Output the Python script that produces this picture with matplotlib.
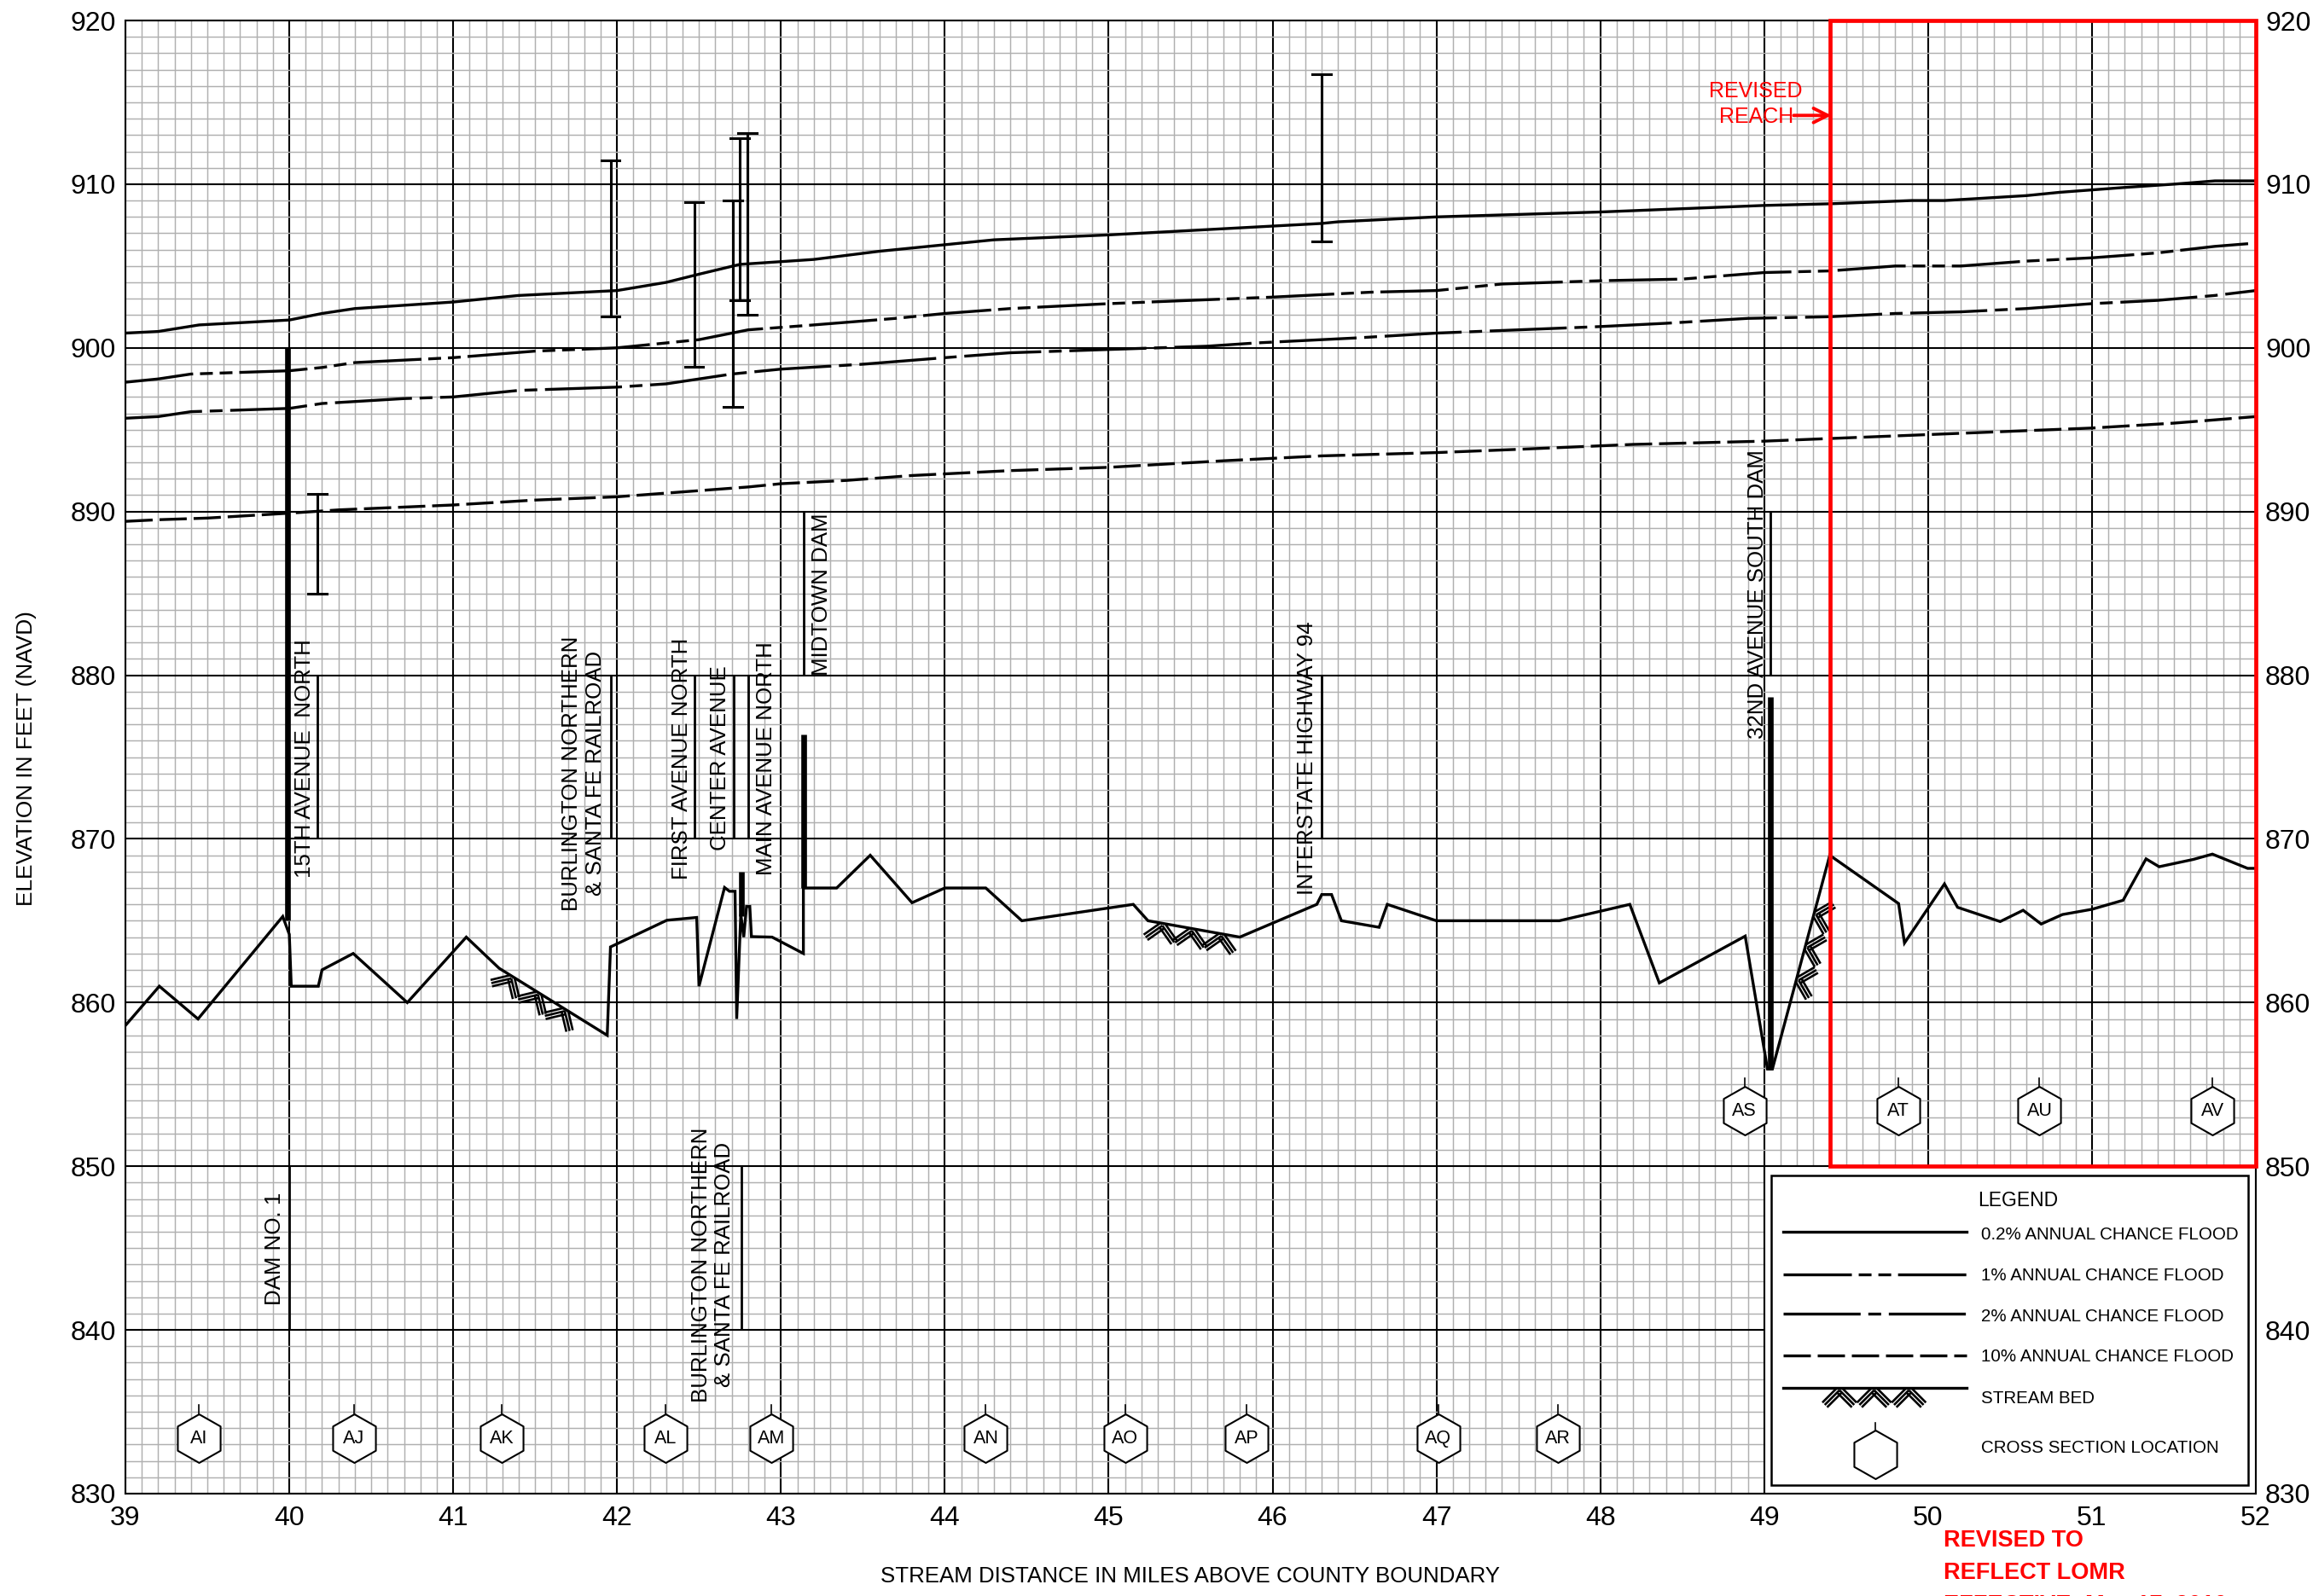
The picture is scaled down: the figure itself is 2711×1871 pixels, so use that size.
import numpy as np
import matplotlib
matplotlib.use("Agg")
import matplotlib.pyplot as plt
from matplotlib.lines import Line2D
from matplotlib.patches import Rectangle
from matplotlib.ticker import MultipleLocator

plt.rcParams['font.family'] = ['Liberation Sans', 'DejaVu Sans']
plt.rcParams['lines.scale_dashes'] = False

miles = list(range(39, 53))
elevs = list(range(830, 921, 10))

f02_x = [39, 39.2, 39.45, 40, 40.2, 40.4, 41, 41.4, 42, 42.3, 42.5, 42.75, 43.2, 43.6, 44, 44.3, 45, 46.3, 46.4, 47, 48, 49, 49.4, 49.9, 50.1, 50.6, 50.8, 51.2, 51.5, 51.75, 52]
f02_y = [900.9, 901.0, 901.4, 901.7, 902.1, 902.4, 902.8, 903.2, 903.5, 904, 904.5, 905.1, 905.4, 905.9, 906.3, 906.6, 906.9, 907.6, 907.7, 908, 908.3, 908.7, 908.8, 909, 909, 909.3, 909.5, 909.8, 910, 910.2, 910.2]
f1_x = [39, 39.2, 39.4, 40, 40.2, 40.4, 41, 41.5, 42, 42.5, 42.8, 43.2, 43.7, 44, 44.4, 45, 45.5, 46, 46.6, 47, 47.4, 48, 48.5, 49, 49.4, 49.8, 50.2, 50.6, 51, 51.4, 51.75, 52]
f1_y = [897.9, 898.1, 898.4, 898.6, 898.8, 899.1, 899.4, 899.8, 900, 900.5, 901.1, 901.4, 901.8, 902.1, 902.4, 902.7, 902.9, 903.1, 903.4, 903.5, 903.9, 904.1, 904.2, 904.6, 904.7, 905, 905, 905.3, 905.5, 905.8, 906.2, 906.4]
f2_x = [39, 39.2, 39.4, 40, 40.2, 40.7, 41, 41.4, 42, 42.3, 42.7, 43, 43.5, 44, 44.4, 45, 45.6, 45.9, 46.5, 47, 47.5, 48, 48.4, 48.9, 49.4, 49.8, 50.2, 50.6, 51, 51.4, 51.75, 52]
f2_y = [895.7, 895.8, 896.1, 896.3, 896.6, 896.9, 897, 897.4, 897.6, 897.8, 898.4, 898.7, 899.0, 899.4, 899.7, 899.9, 900.1, 900.3, 900.6, 900.9, 901.1, 901.3, 901.5, 901.8, 901.9, 902.1, 902.2, 902.4, 902.7, 902.9, 903.2, 903.5]
f10_x = [39, 39.2, 39.5, 40, 40.3, 41, 41.5, 42, 42.4, 42.8, 43, 43.4, 43.8, 44.4, 45, 45.7, 46.3, 47, 47.5, 48.2, 49, 49.5, 50, 50.5, 51, 51.5, 52]
f10_y = [889.4, 889.5, 889.6, 889.9, 890.1, 890.4, 890.7, 890.9, 891.2, 891.5, 891.7, 891.9, 892.2, 892.5, 892.7, 893.1, 893.4, 893.6, 893.8, 894.1, 894.3, 894.5, 894.7, 894.9, 895.1, 895.4, 895.8]
bed_x = [39, 39.207, 39.443, 39.96, 40, 40.012, 40.177, 40.2, 40.39, 40.72, 41.08, 41.28, 41.94, 41.96, 42.304, 42.486, 42.5, 42.656, 42.686, 42.72, 42.73, 42.755, 42.773, 42.79, 42.81, 42.82, 42.946, 43.137, 43.137, 43.34, 43.545, 43.8, 44, 44.25, 44.47, 45.15, 45.24, 45.8, 46.27, 46.3, 46.36, 46.42, 46.65, 46.7, 47, 47.75, 48.18, 48.36, 48.884, 49.02, 49.05, 49.4, 49.82, 49.856, 50.1, 50.18, 50.44, 50.58, 50.69, 50.82, 51, 51.19, 51.33, 51.41, 51.62, 51.735, 51.95, 52]
bed_y = [858.6, 861, 859, 865.26, 864.17, 861, 861, 862, 863, 860, 864, 862.1, 858, 863.4, 865.03, 865.2, 861, 867.03, 866.8, 866.8, 859, 865.4, 864, 865.87, 865.87, 864.03, 864, 863, 867, 867, 869, 866.1, 867, 867, 865, 866, 865, 864, 866, 866.6, 866.6, 865, 864.6, 866, 865, 865, 866, 861.2, 864.06, 855.94, 855.94, 869, 866.05, 863.64, 867.25, 865.82, 864.95, 865.64, 864.8, 865.38, 865.7, 866.25, 868.78, 868.3, 868.75, 869.07, 868.2, 868.2]

# stream-bed hatching: start mile, end mile, elevation at start, elevation at end
hatch_x0 = [41.28, 45.24, 49.17]
hatch_x1 = [41.77, 45.78, 49.33]
hatch_y0 = [862.1, 865.0, 860.4]
hatch_y1 = [859.1, 864.05, 866.4]
hatch_side = [1, 1, -1]

# bridge spans
deck_x = [40.17, 41.96, 42.47, 42.705, 42.75, 42.795, 46.3]
deck_lo = [885, 901.9, 898.86, 896.4, 902.9, 902, 906.5]
deck_hi = [891.1, 911.43, 908.9, 909, 912.8, 913.1, 916.7]

# heavy dam bars
dam_x = [39.99, 42.76, 43.14, 49.037]
dam_lo = [865, 865.3, 867, 856]
dam_hi = [900, 868, 876.4, 878.7]

label_names = ["15TH AVENUE  NORTH", "BURLINGTON NORTHERN\n& SANTA FE RAILROAD", "FIRST AVENUE NORTH", "CENTER AVENUE",
               "MAIN AVENUE NORTH", "MIDTOWN DAM", "INTERSTATE HIGHWAY 94", "32ND AVENUE SOUTH DAM",
               "DAM NO. 1", "BURLINGTON NORTHERN\n& SANTA FE RAILROAD"]
label_x = [40.095, 41.795, 42.395, 42.63, 42.91, 43.25, 46.21, 48.96, 39.91, 42.585]
label_y = [867.6, 865.6, 867.5, 869.3, 867.8, 880, 866.6, 876.1, 841.5, 835.6]
leader_x = [40.17, 41.96, 42.47, 42.71, 42.80, 43.14, 46.3, 49.04, 40, 42.76]
leader_lo = [870, 870, 870, 870, 870, 880, 870, 880, 840, 840]
leader_hi = [880, 880, 880, 880, 880, 890, 880, 890, 850, 850]

xs_names = ["AI", "AJ", "AK", "AL", "AM", "AN", "AO", "AP", "AQ", "AR", "AS", "AT", "AU", "AV"]
xs_x = [39.45, 40.395, 41.295, 42.295, 42.94, 44.25, 45.1, 45.84, 47.01, 47.74, 48.88, 49.82, 50.68, 51.735]
xs_y = [833.4] * 10 + [853.4] * 4

legend_names = ["0.2% ANNUAL CHANCE FLOOD", "1% ANNUAL CHANCE FLOOD", "2% ANNUAL CHANCE FLOOD",
                "10% ANNUAL CHANCE FLOOD", "STREAM BED", "CROSS SECTION LOCATION"]

S = 2711 / 1568
def fx(p): return p * S / 2711
def fy(p): return 1 - p * S / 1871

DS_1 = (0, (57.6, 5.8, 10.8, 5.8, 10.8, 5.8))
DS_2 = (0, (65, 6.5, 10.8, 6.5))
DS_10 = (0, (23, 5.8))
LW = 2.4

fig = plt.figure(figsize=(27.11, 18.71), dpi=100)
ax = fig.add_axes([147 / 2711, 1 - 1751 / 1871, (2644 - 147) / 2711, (1751 - 24) / 1871])
ax.set_xlim(39, 52)
ax.set_ylim(830, 920)
ax.xaxis.set_minor_locator(MultipleLocator(0.1))
ax.yaxis.set_minor_locator(MultipleLocator(1))
ax.set_xticks(miles)
ax.set_yticks(elevs)
ax.set_axisbelow(True)
ax.grid(which='minor', color='#b0b0b0', lw=1.05)
ax.grid(which='major', color='black', lw=1.5)
ax.tick_params(which='both', length=0)
ax.tick_params(axis='y', labelleft=True, labelright=True, labelsize=23, pad=8)
ax.tick_params(axis='x', labelsize=23, pad=10)
for s in ax.spines.values():
    s.set_linewidth(1.5)

ax.add_patch(Rectangle((49, 830), 3, 20, fc='white', ec='black', lw=1.5, zorder=1))

ax.plot(f02_x, f02_y, color='k', lw=LW, zorder=3)
ax.plot(f1_x, f1_y, color='k', lw=LW, ls=DS_1, zorder=3)
ax.plot(f2_x, f2_y, color='k', lw=LW, ls=DS_2, zorder=3)
ax.plot(f10_x, f10_y, color='k', lw=LW, ls=DS_10, zorder=3)
ax.plot(bed_x, bed_y, color='k', lw=LW, zorder=3, solid_joinstyle='miter')

def chevrons(x0, y0, x1, y1, side, n, leg, gap, lw, target):
    """Triple-line chevrons below a base line, working in a square space where 1 ft = 0.1 mile."""
    p0 = np.array([x0 * 10, y0]); p1 = np.array([x1 * 10, y1])
    t = (p1 - p0); L = np.hypot(*t); t = t / L
    nrm = np.array([-t[1], t[0]]) * side
    if nrm[1] > 0 and side == 1:
        nrm = -nrm
    w = L / n
    for k in range(n):
        apex = p0 + t * (k + 0.5) * w + nrm * gap * 0.7
        for d in (t + nrm, -t + nrm):
            d = d / np.hypot(*d)
            perp = np.array([-d[1], d[0]])
            for i in (-1, 0, 1):
                a = apex + perp * i * gap
                b = a + d * leg
                target.plot([a[0] / 10, b[0] / 10], [a[1], b[1]], color='k', lw=lw, zorder=3, solid_capstyle='butt')

for x0, x1, y0, y1, sd in zip(hatch_x0, hatch_x1, hatch_y0, hatch_y1, hatch_side):
    chevrons(x0, y0, x1, y1, sd, 3, 1.25, 0.2, 1.9, ax)

for x, lo, hi in zip(deck_x, deck_lo, deck_hi):
    ax.plot([x, x], [lo, hi], color='k', lw=2.2, zorder=3)
    ax.plot([x - 0.057, x + 0.057], [lo, lo], color='k', lw=2.2, zorder=3)
    ax.plot([x - 0.057, x + 0.057], [hi, hi], color='k', lw=2.2, zorder=3)

for x, lo, hi in zip(dam_x, dam_lo, dam_hi):
    ax.plot([x, x], [lo, hi], color='k', lw=4.8, zorder=3, solid_capstyle='butt')

for x, lo, hi in zip(leader_x, leader_lo, leader_hi):
    ax.plot([x, x], [lo, hi], color='k', lw=2, zorder=3, solid_capstyle='butt')

for name, x, y in zip(label_names, label_x, label_y):
    ax.text(x, y, name, rotation=90, ha='center', va='bottom', fontsize=18.6, multialignment='center',
            linespacing=1.2, zorder=4)

HEX = [(0, 1), (0.88, 0.5), (0.88, -0.5), (0, -1), (-0.88, -0.5), (-0.88, 0.5), (0, 1)]
for name, x, y in zip(xs_names, xs_x, xs_y):
    ax.plot([x, x], [y + 1.4, y + 2.0], color='k', lw=1.2, zorder=4)
    ax.plot([x], [y], marker=HEX, ms=41, mfc='white', mec='k', mew=1.5, zorder=4, ls='none')
    ax.text(x, y - 0.05, name, ha='center', va='center', fontsize=15.5, zorder=5)

ax.add_patch(Rectangle((49.4, 850), 2.6, 70, fc='none', ec='#ff0000', lw=3.4, zorder=6, clip_on=False))

ax.text(48.95, 914.9, "REVISED\nREACH", color='#ff0000', ha='center', va='center', fontsize=18, linespacing=1.35, zorder=6)
ax.annotate("", xy=(49.41, 914.2), xytext=(49.18, 914.2),
            arrowprops=dict(arrowstyle='->', color='#ff0000', lw=2.8, mutation_scale=30, shrinkA=0, shrinkB=0), zorder=6)

fig.text(fx(807), fy(1069), "STREAM DISTANCE IN MILES ABOVE COUNTY BOUNDARY", ha='center', va='center', fontsize=18.6)
fig.text(fx(18), fy(514), "ELEVATION IN FEET (NAVD)", rotation=90, ha='center', va='center', fontsize=18.9)
fig.text(2278 / 2711, 1 - 1813 / 1871, "REVISED TO", color='#ff0000', weight='bold', ha='left', va='baseline', fontsize=19.5)
fig.text(2278 / 2711, 1 - 1851 / 1871, "REFLECT LOMR", color='#ff0000', weight='bold', ha='left', va='baseline', fontsize=19.5)
fig.text(2278 / 2711, 1 - 1889 / 1871, "EFFECTIVE: May 17, 2010", color='#ff0000', weight='bold', ha='left', va='baseline', fontsize=19.5)

# legend
fig.add_artist(Rectangle((fx(1201), fy(1007)), fx(1524) - fx(1201), fy(797) - fy(1007), fc='white', ec='k', lw=1.8,
                         transform=fig.transFigure, zorder=5))
fig.text(fx(1368), fy(814), "LEGEND", ha='center', va='center', fontsize=16.5, zorder=6)
leg_y = [835, 864, 891, 919, 941]
leg_txt_y = [837, 865, 893, 920, 948, 982]
leg_ls = ['-', DS_1, DS_2, DS_10, '-']
for y, ls in zip(leg_y, leg_ls):
    fig.add_artist(Line2D([fx(1209), fx(1333)], [fy(y), fy(y)], color='k', lw=LW, ls=ls,
                          transform=fig.transFigure, zorder=6))
for name, y in zip(legend_names, leg_txt_y):
    fig.text(fx(1343), fy(y), name, ha='left', va='center', fontsize=14.8, zorder=6)

# stream-bed legend chevrons
for k in range(3):
    cx = 1247 + k * 23.5
    for sgn in (-1, 1):
        for i in (-1, 0, 1):
            xa = cx - sgn * i * 1.6
            ya = 941 + (i + 1) * 1.6
            fig.add_artist(Line2D([fx(xa), fx(xa + sgn * 10)], [fy(ya), fy(ya + 10)], color='k', lw=1.9,
                                  transform=fig.transFigure, zorder=6, solid_capstyle='butt'))

fig.add_artist(Line2D([fx(1271), fx(1271)], [fy(965), fy(972)], color='k', lw=1.2, transform=fig.transFigure, zorder=6))
fig.add_artist(Line2D([fx(1271)], [fy(986)], marker=HEX, ms=41, mfc='white', mec='k', mew=1.5, ls='none',
                      transform=fig.transFigure, zorder=6))

fig.savefig("out.png", dpi=100)
